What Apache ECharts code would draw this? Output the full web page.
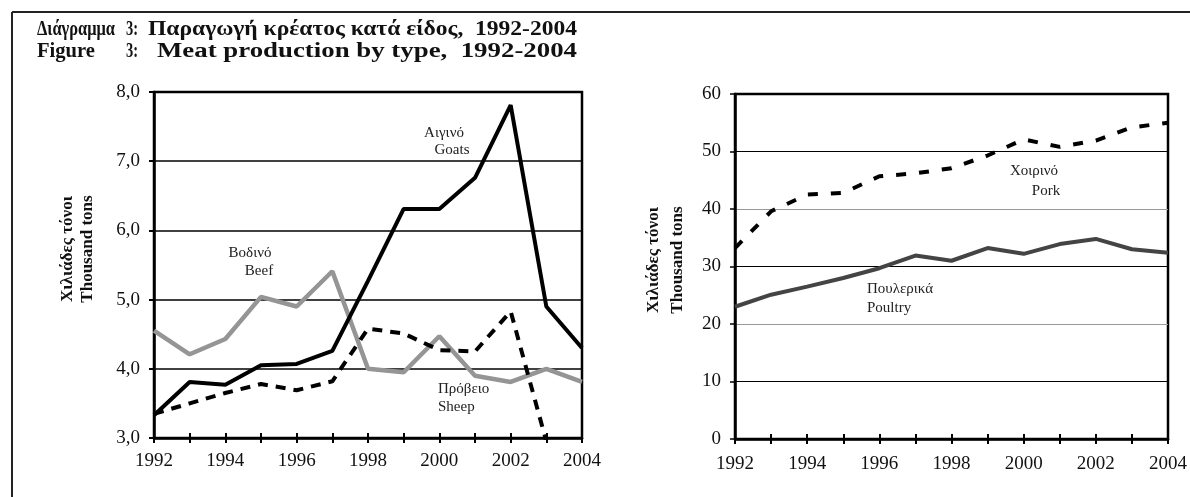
<!DOCTYPE html>
<html>
<head>
<meta charset="utf-8">
<script src="https://cdn.jsdelivr.net/npm/echarts@6/dist/echarts.min.js"></script>
<style>
html,body{margin:0;padding:0;background:#fff;}
#chart{width:1190px;height:497px;}
</style>
</head>
<body>
<div id="chart"></div>
<script>
// ---- Data ----
var years = ['1992','1993','1994','1995','1996','1997','1998','1999','2000','2001','2002','2003','2004'];
var beef    = [4.55, 4.21, 4.43, 5.04, 4.90, 5.41, 4.00, 3.95, 4.47, 3.90, 3.81, 4.00, 3.81];
var goats   = [3.33, 3.81, 3.77, 4.05, 4.07, 4.26, 5.27, 6.31, 6.31, 6.76, 7.81, 4.90, 4.30];
var sheep   = [3.35, 3.50, 3.65, 3.78, 3.69, 3.82, 4.58, 4.51, 4.27, 4.25, 4.83, 2.95, 2.90];
var pork    = [33.2, 39.6, 42.5, 42.8, 45.7, 46.2, 47.1, 49.3, 52.1, 50.8, 51.9, 54.2, 55.0];
var poultry = [23.0, 25.1, 26.5, 28.0, 29.7, 31.9, 31.0, 33.2, 32.2, 33.9, 34.8, 33.0, 32.4];
var leftTicks  = {min: 3, max: 8, step: 1};
var rightTicks = {min: 0, max: 60, step: 10};

var FONT = 'Liberation Serif';
var chart = echarts.init(document.getElementById('chart'), null, {renderer: 'canvas'});

// measure text to fit title pieces into their measured spans
var mctx = document.createElement('canvas').getContext('2d');
function titlePiece(text, x0, x1, y) {
  var font = 'bold 20px "Liberation Serif"';
  mctx.font = font;
  var w = mctx.measureText(text).width || 1;
  return {type: 'text', x: x0, y: y, scaleX: (x1 - x0) / w, scaleY: 1,
    style: {text: text, font: font, fill: '#111', align: 'left', verticalAlign: 'middle'}};
}

function xAxes(gridIndex, labelMargin) {
  return [{
    type: 'category', gridIndex: gridIndex, data: years, boundaryGap: false,
    axisLine: {show: true, lineStyle: {color: '#000', width: 2.5}},
    axisTick: {show: true, interval: 0, length: 5, lineStyle: {color: '#000', width: 2}},
    axisLabel: {interval: 1, margin: labelMargin, color: '#111', fontFamily: FONT, fontSize: 19},
    splitLine: {show: false}
  }, {
    type: 'category', gridIndex: gridIndex, data: years, boundaryGap: false, position: 'bottom',
    axisLine: {show: false},
    axisTick: {show: true, inside: true, interval: 0, length: 5, lineStyle: {color: '#000', width: 2}},
    axisLabel: {show: false},
    splitLine: {show: false}
  }];
}

var option = {
  animation: false,
  backgroundColor: '#fff',
  grid: [
    {left: 154, top: 92, width: 428, height: 346, show: true, borderColor: '#000', borderWidth: 2.5, backgroundColor: 'transparent'},
    {left: 735, top: 94, width: 438, height: 345, show: true, borderColor: '#000', borderWidth: 2.5, backgroundColor: 'transparent'}
  ],
  xAxis: xAxes(0, 14).concat(xAxes(1, 16)),
  yAxis: [{
    type: 'value', gridIndex: 0, min: leftTicks.min, max: leftTicks.max, interval: leftTicks.step,
    axisLine: {show: true, lineStyle: {color: '#000', width: 2.5}},
    axisTick: {show: true, length: 5, lineStyle: {color: '#000', width: 2}},
    axisLabel: {margin: 14, color: '#111', fontFamily: FONT, fontSize: 19,
      formatter: function (v) { return v.toFixed(1).replace('.', ','); }},
    splitLine: {show: true, lineStyle: {color: '#000', width: 1.6}}
  }, {
    type: 'value', gridIndex: 1, min: rightTicks.min, max: rightTicks.max, interval: rightTicks.step,
    axisLine: {show: true, lineStyle: {color: '#000', width: 2.5}},
    axisTick: {show: true, length: 5, lineStyle: {color: '#000', width: 1.5}},
    axisLabel: {margin: 14, color: '#111', fontFamily: FONT, fontSize: 19},
    splitLine: {show: true, lineStyle: {color: ['#000', '#000', '#999', '#000', '#999', '#000', '#000'], width: 1.1}}
  }],
  series: [
    {name: 'Beef', type: 'line', xAxisIndex: 0, yAxisIndex: 0, data: beef, symbol: 'none', clip: true,
      lineStyle: {color: '#959595', width: 4.5}},
    {name: 'Sheep', type: 'line', xAxisIndex: 0, yAxisIndex: 0, data: sheep, symbol: 'none', clip: true,
      lineStyle: {color: '#000', width: 4, type: [10, 8]}},
    {name: 'Goats', type: 'line', xAxisIndex: 0, yAxisIndex: 0, data: goats, symbol: 'none', clip: true,
      lineStyle: {color: '#000', width: 4}},
    {name: 'Pork', type: 'line', xAxisIndex: 2, yAxisIndex: 1, data: pork, symbol: 'none', clip: true,
      lineStyle: {color: '#000', width: 4, type: [10, 13]}},
    {name: 'Poultry', type: 'line', xAxisIndex: 2, yAxisIndex: 1, data: poultry, symbol: 'none', clip: true,
      lineStyle: {color: '#444', width: 4}}
  ],
  graphic: [
    {type: 'line', shape: {x1: 12, y1: 12, x2: 1190, y2: 12}, style: {stroke: '#222', lineWidth: 2}},
    {type: 'line', shape: {x1: 12, y1: 12, x2: 12, y2: 497}, style: {stroke: '#222', lineWidth: 2}},
    titlePiece('Διάγραμμα', 37, 115, 30),
    titlePiece('3:', 126, 138, 30),
    titlePiece('Παραγωγή κρέατος κατά είδος,  1992-2004', 148, 577, 30),
    titlePiece('Figure', 37, 95, 52),
    titlePiece('3:', 126, 138, 52),
    titlePiece('Meat production by type,  1992-2004', 157, 577, 52),

    {type: 'text', x: 68, y: 249, rotation: Math.PI / 2, style: {text: 'Χιλιάδες τόνοι', font: 'bold 17px "Liberation Serif"', fill: '#111', align: 'center', verticalAlign: 'middle'}},
    {type: 'text', x: 88, y: 249, rotation: Math.PI / 2, style: {text: 'Thousand tons', font: 'bold 17px "Liberation Serif"', fill: '#111', align: 'center', verticalAlign: 'middle'}},
    {type: 'text', x: 654, y: 260, rotation: Math.PI / 2, style: {text: 'Χιλιάδες τόνοι', font: 'bold 17px "Liberation Serif"', fill: '#111', align: 'center', verticalAlign: 'middle'}},
    {type: 'text', x: 678, y: 260, rotation: Math.PI / 2, style: {text: 'Thousand tons', font: 'bold 17px "Liberation Serif"', fill: '#111', align: 'center', verticalAlign: 'middle'}},

    {type: 'text', x: 250, y: 253, style: {text: 'Βοδινό', font: '15px "Liberation Serif"', fill: '#222', align: 'center', verticalAlign: 'middle'}},
    {type: 'text', x: 259, y: 271, style: {text: 'Beef', font: '15px "Liberation Serif"', fill: '#222', align: 'center', verticalAlign: 'middle'}},
    {type: 'text', x: 444, y: 133, style: {text: 'Αιγινό', font: '15px "Liberation Serif"', fill: '#222', align: 'center', verticalAlign: 'middle'}},
    {type: 'text', x: 452, y: 150, style: {text: 'Goats', font: '15px "Liberation Serif"', fill: '#222', align: 'center', verticalAlign: 'middle'}},
    {type: 'text', x: 438, y: 389, style: {text: 'Πρόβειο', font: '15px "Liberation Serif"', fill: '#222', align: 'left', verticalAlign: 'middle'}},
    {type: 'text', x: 438, y: 407, style: {text: 'Sheep', font: '15px "Liberation Serif"', fill: '#222', align: 'left', verticalAlign: 'middle'}},
    {type: 'text', x: 1034, y: 171, style: {text: 'Χοιρινό', font: '15px "Liberation Serif"', fill: '#222', align: 'center', verticalAlign: 'middle'}},
    {type: 'text', x: 1046, y: 191, style: {text: 'Pork', font: '15px "Liberation Serif"', fill: '#222', align: 'center', verticalAlign: 'middle'}},
    {type: 'text', x: 867, y: 289, style: {text: 'Πουλερικά', font: '15px "Liberation Serif"', fill: '#222', align: 'left', verticalAlign: 'middle'}},
    {type: 'text', x: 867, y: 308, style: {text: 'Poultry', font: '15px "Liberation Serif"', fill: '#222', align: 'left', verticalAlign: 'middle'}}
  ]
};
chart.setOption(option);
</script>
</body>
</html>
